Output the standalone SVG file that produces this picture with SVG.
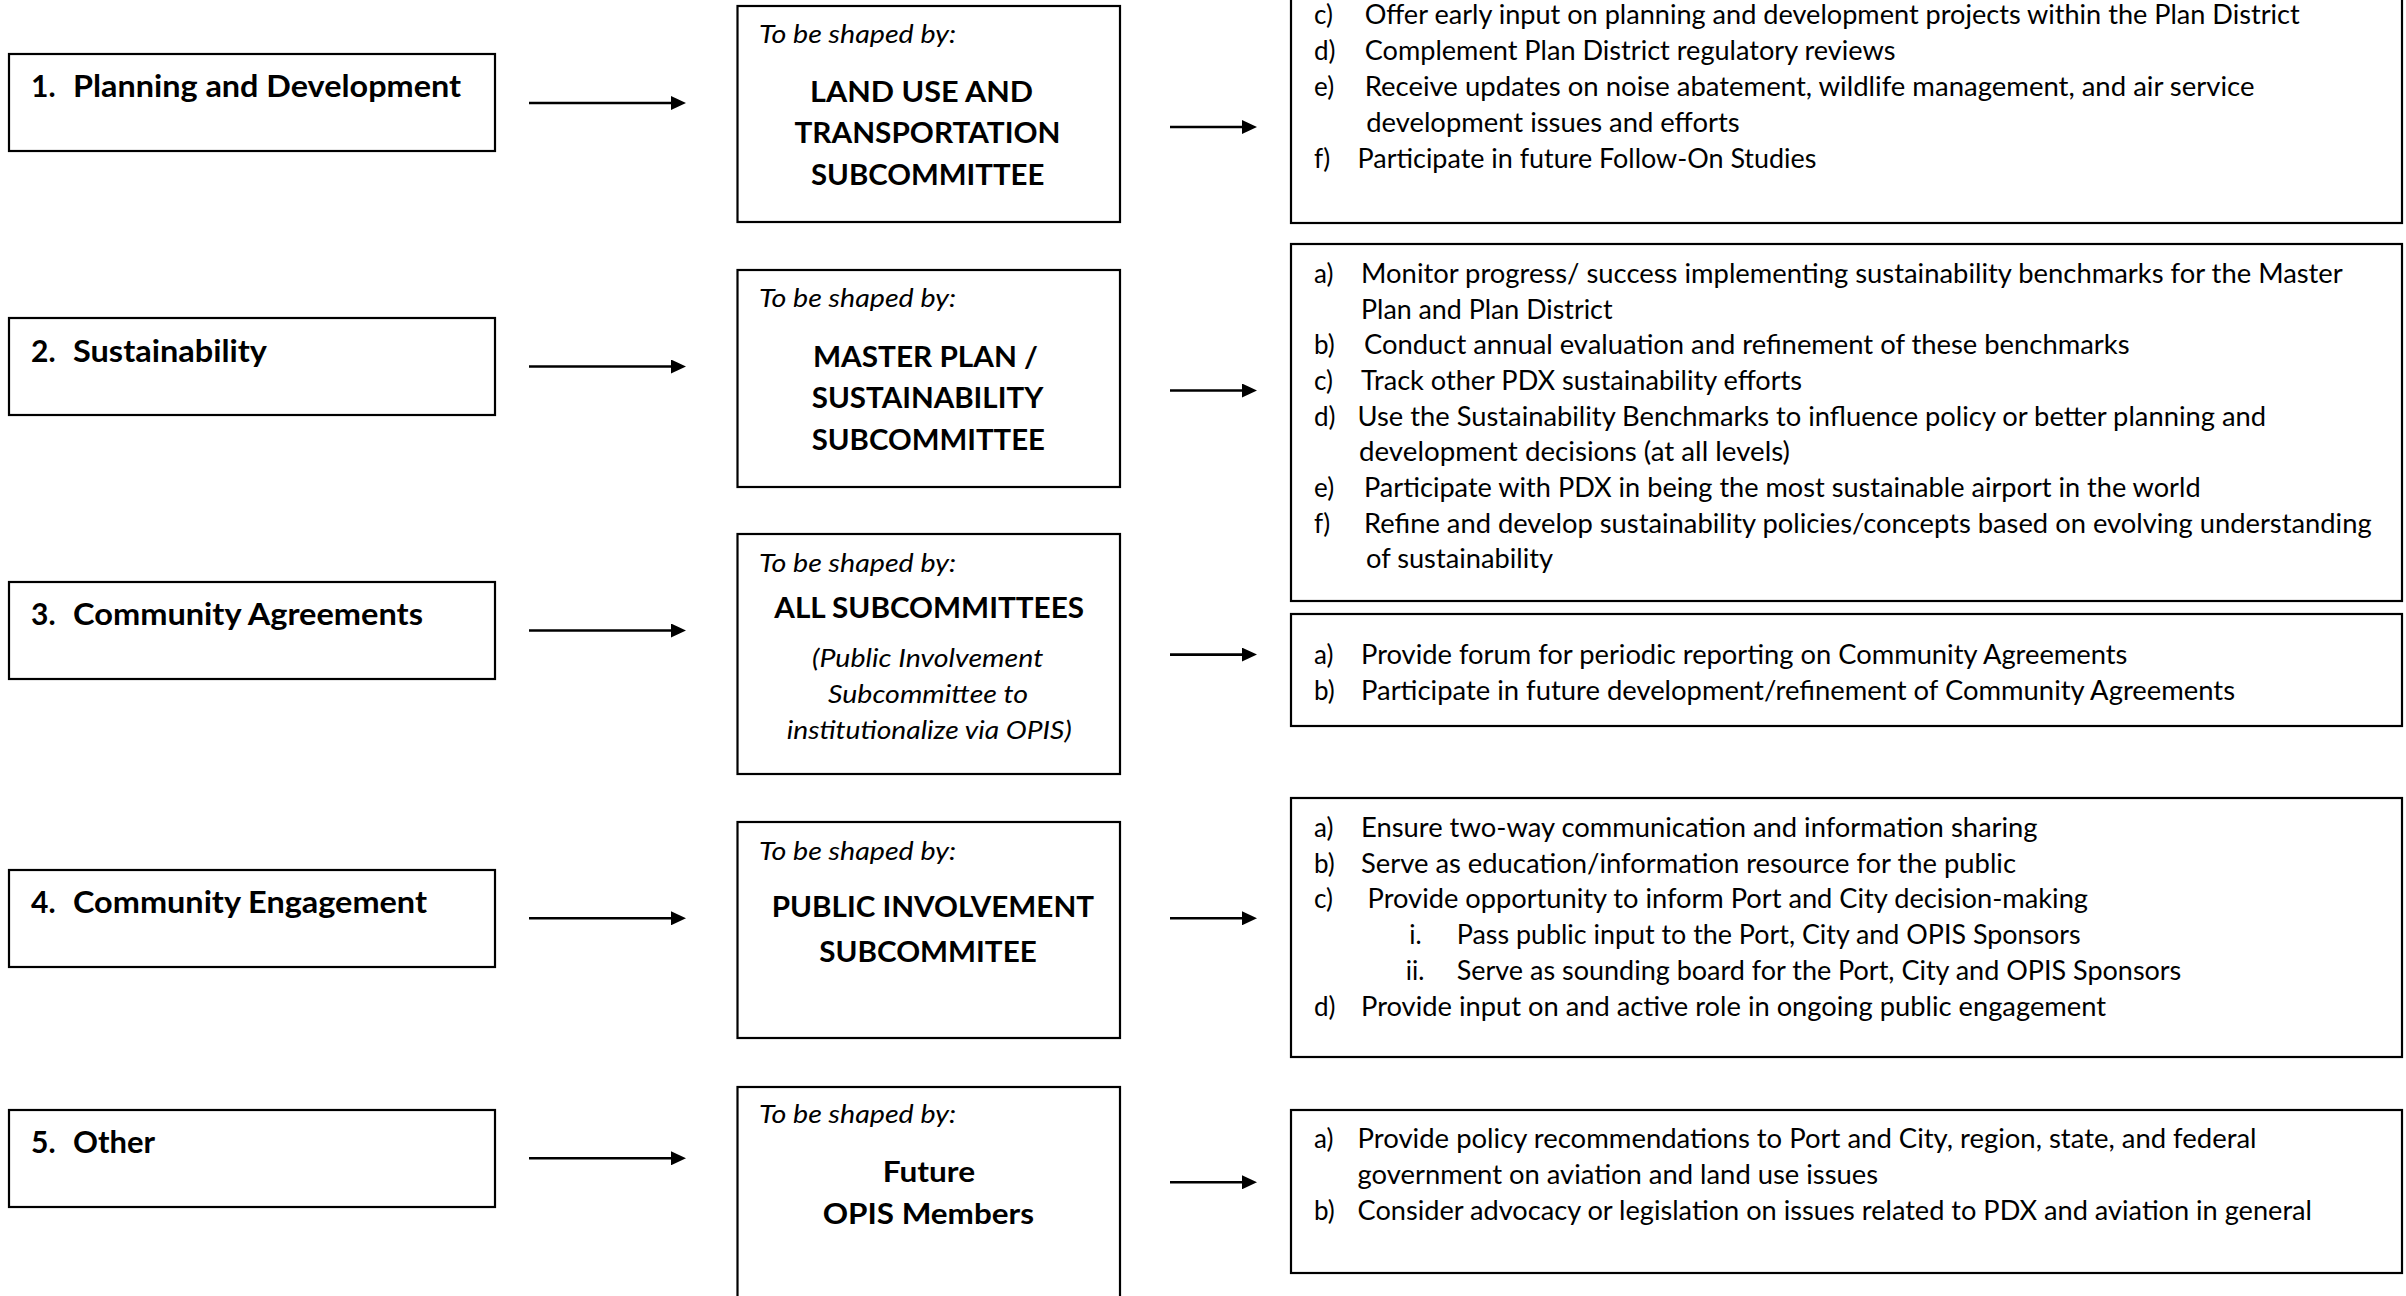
<svg xmlns="http://www.w3.org/2000/svg" width="2406" height="1296" viewBox="0 0 2406 1296">
<style>
.box{fill:#fff;stroke:#000;stroke-width:2.2}
text{fill:#000;font-family:Lato,"Open Sans","Liberation Sans",sans-serif}
.lbl{font-weight:700;font-size:30px}
.sb{font-style:italic;font-size:25px}
.ttl{font-weight:700;font-size:29px}
.it{font-style:italic;font-size:25px}
.rt{font-size:26px}
.con{stroke:#000;stroke-width:2.6;fill:none}
</style>
<defs>
<marker id="ah" markerUnits="userSpaceOnUse" markerWidth="16" markerHeight="14" refX="1" refY="7" orient="auto">
<path d="M0,0 L15,7 L0,14 z" fill="#000"/>
</marker>
</defs>
<rect width="2406" height="1296" fill="#fff"/>

<!-- Left nodes -->
<g id="left1"><rect class="box" x="9" y="54" width="486" height="97"/>
<text class="lbl" x="31" y="97.3">1.</text><text class="lbl" x="73" y="97.3" textLength="388" lengthAdjust="spacingAndGlyphs">Planning and Development</text></g>
<g id="left2"><rect class="box" x="9" y="318" width="486" height="97"/>
<text class="lbl" x="31" y="362">2.</text><text class="lbl" x="73" y="362" textLength="194" lengthAdjust="spacingAndGlyphs">Sustainability</text></g>
<g id="left3"><rect class="box" x="9" y="582" width="486" height="97"/>
<text class="lbl" x="31" y="625.3">3.</text><text class="lbl" x="73" y="625.3" textLength="350" lengthAdjust="spacingAndGlyphs">Community Agreements</text></g>
<g id="left4"><rect class="box" x="9" y="870" width="486" height="97"/>
<text class="lbl" x="31" y="913.3">4.</text><text class="lbl" x="73" y="913.3" textLength="354" lengthAdjust="spacingAndGlyphs">Community Engagement</text></g>
<g id="left5"><rect class="box" x="9" y="1110" width="486" height="97"/>
<text class="lbl" x="31" y="1153">5.</text><text class="lbl" x="73" y="1153" textLength="82" lengthAdjust="spacingAndGlyphs">Other</text></g>

<!-- Middle nodes -->
<g id="mid1"><rect class="box" x="737.5" y="6" width="382.5" height="216"/>
<text class="sb" x="759" y="43.3" textLength="197" lengthAdjust="spacingAndGlyphs">To be shaped by:</text>
<text class="ttl" x="810" y="101.7" textLength="223" lengthAdjust="spacingAndGlyphs">LAND USE AND</text>
<text class="ttl" x="794.5" y="142.7" textLength="266" lengthAdjust="spacingAndGlyphs">TRANSPORTATION</text>
<text class="ttl" x="811" y="185" textLength="233.4" lengthAdjust="spacingAndGlyphs">SUBCOMMITTEE</text></g>
<g id="mid2"><rect class="box" x="737.5" y="270" width="382.5" height="217"/>
<text class="sb" x="759" y="306.7" textLength="197" lengthAdjust="spacingAndGlyphs">To be shaped by:</text>
<text class="ttl" x="813" y="366.7" textLength="225" lengthAdjust="spacingAndGlyphs">MASTER PLAN /</text>
<text class="ttl" x="811.7" y="408.3" textLength="231.6" lengthAdjust="spacingAndGlyphs">SUSTAINABILITY</text>
<text class="ttl" x="811.7" y="450" textLength="233.3" lengthAdjust="spacingAndGlyphs">SUBCOMMITTEE</text></g>
<g id="mid3"><rect class="box" x="737.5" y="534" width="382.5" height="240"/>
<text class="sb" x="759" y="572.3" textLength="197" lengthAdjust="spacingAndGlyphs">To be shaped by:</text>
<text class="ttl" x="774.3" y="618.3" textLength="309.7" lengthAdjust="spacingAndGlyphs">ALL SUBCOMMITTEES</text>
<text class="it" x="812" y="666.7" textLength="231.3" lengthAdjust="spacingAndGlyphs">(Public Involvement</text>
<text class="it" x="828" y="703.3" textLength="200" lengthAdjust="spacingAndGlyphs">Subcommittee to</text>
<text class="it" x="786.7" y="738.5" textLength="285" lengthAdjust="spacingAndGlyphs">institutionalize via OPIS)</text></g>
<g id="mid4"><rect class="box" x="737.5" y="822" width="382.5" height="216"/>
<text class="sb" x="759" y="860" textLength="197" lengthAdjust="spacingAndGlyphs">To be shaped by:</text>
<text class="ttl" x="771.7" y="916.7" textLength="322.3" lengthAdjust="spacingAndGlyphs">PUBLIC INVOLVEMENT</text>
<text class="ttl" x="819.3" y="961.7" textLength="217.4" lengthAdjust="spacingAndGlyphs">SUBCOMMITEE</text></g>
<g id="mid5"><rect class="box" x="737.5" y="1087" width="382.5" height="230"/>
<text class="sb" x="759" y="1123.3" textLength="197" lengthAdjust="spacingAndGlyphs">To be shaped by:</text>
<text class="ttl" x="882.7" y="1181.7" textLength="92.3" lengthAdjust="spacingAndGlyphs">Future</text>
<text class="ttl" x="822.7" y="1224.3" textLength="211.3" lengthAdjust="spacingAndGlyphs">OPIS Members</text></g>

<!-- Right nodes -->
<g id="right1"><rect class="box" x="1291" y="-10" width="1111" height="233"/>
<text class="rt" x="1314" y="23.5">c)</text><text class="rt" x="1364.7" y="23.5" textLength="935" lengthAdjust="spacingAndGlyphs">Offer early input on planning and development projects within the Plan District</text>
<text class="rt" x="1314" y="59.5">d)</text><text class="rt" x="1364.7" y="59.5" textLength="530.7" lengthAdjust="spacingAndGlyphs">Complement Plan District regulatory reviews</text>
<text class="rt" x="1314" y="95.5">e)</text><text class="rt" x="1364.7" y="95.5" textLength="889.8" lengthAdjust="spacingAndGlyphs">Receive updates on noise abatement, wildlife management, and air service</text>
<text class="rt" x="1366.2" y="131.5" textLength="373.4" lengthAdjust="spacingAndGlyphs">development issues and efforts</text>
<text class="rt" x="1314" y="167.5">f)</text><text class="rt" x="1357.6" y="167.5" textLength="458.8" lengthAdjust="spacingAndGlyphs">Participate in future Follow-On Studies</text></g>
<g id="right2"><rect class="box" x="1291" y="244" width="1111" height="357"/>
<text class="rt" x="1314" y="282.7">a)</text><text class="rt" x="1361.1" y="282.7" textLength="981.7" lengthAdjust="spacingAndGlyphs">Monitor progress/ success implementing sustainability benchmarks for the Master</text>
<text class="rt" x="1361.1" y="318.5" textLength="251.4" lengthAdjust="spacingAndGlyphs">Plan and Plan District</text>
<text class="rt" x="1314" y="354.3">b)</text><text class="rt" x="1364" y="354.3" textLength="765.5" lengthAdjust="spacingAndGlyphs">Conduct annual evaluation and refinement of these benchmarks</text>
<text class="rt" x="1314" y="390">c)</text><text class="rt" x="1361" y="390" textLength="441" lengthAdjust="spacingAndGlyphs">Track other PDX sustainability efforts</text>
<text class="rt" x="1314" y="425.5">d)</text><text class="rt" x="1357.6" y="425.5" textLength="908.4" lengthAdjust="spacingAndGlyphs">Use the Sustainability Benchmarks to influence policy or better planning and</text>
<text class="rt" x="1359" y="461" textLength="431" lengthAdjust="spacingAndGlyphs">development decisions (at all levels)</text>
<text class="rt" x="1314" y="497">e)</text><text class="rt" x="1364" y="497" textLength="836.6" lengthAdjust="spacingAndGlyphs">Participate with PDX in being the most sustainable airport in the world</text>
<text class="rt" x="1314" y="532.5">f)</text><text class="rt" x="1364" y="532.5" textLength="1007.6" lengthAdjust="spacingAndGlyphs">Refine and develop sustainability policies/concepts based on evolving understanding</text>
<text class="rt" x="1366" y="568.3" textLength="187" lengthAdjust="spacingAndGlyphs">of sustainability</text></g>
<g id="right3"><rect class="box" x="1291" y="614" width="1111" height="112"/>
<text class="rt" x="1314" y="664">a)</text><text class="rt" x="1361" y="664" textLength="766.4" lengthAdjust="spacingAndGlyphs">Provide forum for periodic reporting on Community Agreements</text>
<text class="rt" x="1314" y="700">b)</text><text class="rt" x="1361" y="700" textLength="874" lengthAdjust="spacingAndGlyphs">Participate in future development/refinement of Community Agreements</text></g>
<g id="right4"><rect class="box" x="1291" y="798" width="1111" height="259"/>
<text class="rt" x="1314" y="836.7">a)</text><text class="rt" x="1361" y="836.7" textLength="676.6" lengthAdjust="spacingAndGlyphs">Ensure two-way communication and information sharing</text>
<text class="rt" x="1314" y="872.7">b)</text><text class="rt" x="1361" y="872.7" textLength="655" lengthAdjust="spacingAndGlyphs">Serve as education/information resource for the public</text>
<text class="rt" x="1314" y="908.3">c)</text><text class="rt" x="1367.6" y="908.3" textLength="720.4" lengthAdjust="spacingAndGlyphs">Provide opportunity to inform Port and City decision-making</text>
<text class="rt" x="1409.3" y="944">i.</text><text class="rt" x="1456.7" y="944" textLength="624" lengthAdjust="spacingAndGlyphs">Pass public input to the Port, City and OPIS Sponsors</text>
<text class="rt" x="1405.7" y="980">ii.</text><text class="rt" x="1456.7" y="980" textLength="724.6" lengthAdjust="spacingAndGlyphs">Serve as sounding board for the Port, City and OPIS Sponsors</text>
<text class="rt" x="1314" y="1015.7">d)</text><text class="rt" x="1361" y="1015.7" textLength="745" lengthAdjust="spacingAndGlyphs">Provide input on and active role in ongoing public engagement</text></g>
<g id="right5"><rect class="box" x="1291" y="1110" width="1111" height="163"/>
<text class="rt" x="1314" y="1148.3">a)</text><text class="rt" x="1357.6" y="1148.3" textLength="899" lengthAdjust="spacingAndGlyphs">Provide policy recommendations to Port and City, region, state, and federal</text>
<text class="rt" x="1357.6" y="1184" textLength="520.5" lengthAdjust="spacingAndGlyphs">government on aviation and land use issues</text>
<text class="rt" x="1314" y="1220">b)</text><text class="rt" x="1357.6" y="1220" textLength="954.4" lengthAdjust="spacingAndGlyphs">Consider advocacy or legislation on issues related to PDX and aviation in general</text></g>

<!-- Connectors -->
<g id="connectors" class="con">
<line x1="529" y1="103" x2="672" y2="103" marker-end="url(#ah)"/>
<line x1="529" y1="366.5" x2="672" y2="366.5" marker-end="url(#ah)"/>
<line x1="529" y1="630.5" x2="672" y2="630.5" marker-end="url(#ah)"/>
<line x1="529" y1="918.3" x2="672" y2="918.3" marker-end="url(#ah)"/>
<line x1="529" y1="1158.3" x2="672" y2="1158.3" marker-end="url(#ah)"/>
<line x1="1170" y1="127" x2="1243" y2="127" marker-end="url(#ah)"/>
<line x1="1170" y1="390.5" x2="1243" y2="390.5" marker-end="url(#ah)"/>
<line x1="1170" y1="654.6" x2="1243" y2="654.6" marker-end="url(#ah)"/>
<line x1="1170" y1="918.3" x2="1243" y2="918.3" marker-end="url(#ah)"/>
<line x1="1170" y1="1182.3" x2="1243" y2="1182.3" marker-end="url(#ah)"/>
</g>
</svg>
